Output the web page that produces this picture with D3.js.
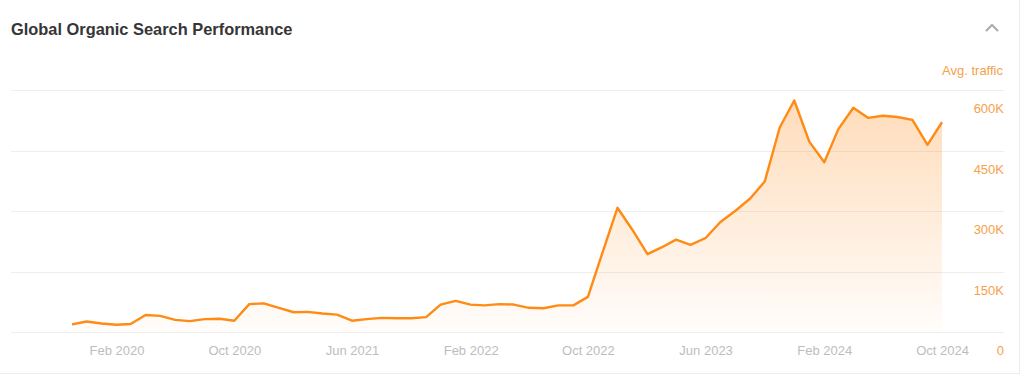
<!DOCTYPE html>
<html>
<head>
<meta charset="utf-8">
<script src="https://cdn.jsdelivr.net/npm/d3@7"></script>
<style>
  html, body { margin: 0; padding: 0; background: #fff; }
  svg { display: block; font-family: "Liberation Sans", Arial, sans-serif; }
</style>
</head>
<body>
<div id="chart"></div>
<script>
// monthly data, Nov 2019 .. Oct 2024
const startMonth = "2019-11";
const traffic = [
  19, 26,
  21, 18, 20, 42, 40, 30, 27, 32, 33, 28, 69, 71,
  60, 49, 50, 46, 43, 28, 32, 35, 34, 34, 37, 68,
  77, 68, 66, 69, 68, 60, 59, 66, 66, 87, 200, 308,
  253, 193, 209, 229, 216, 233, 272, 300, 331, 373, 507, 574,
  472, 421, 503, 556, 531, 536, 533, 526, 464, 520
].map(d => d * 1000);
const xTickLabels = ["Feb 2020", "Oct 2020", "Jun 2021", "Feb 2022", "Oct 2022", "Jun 2023", "Feb 2024", "Oct 2024"];
const yTicks = [0, 150000, 300000, 450000, 600000];

let width = 1024;
let height = 382;

const parseMonth = d3.timeParse("%Y-%m");
const parseLabel = d3.timeParse("%b %Y");
const start = parseMonth(startMonth);
const data = traffic.map((v, i) => ({ date: d3.timeMonth.offset(start, i), value: v }));

let svg = d3.select("#chart")
    .append("svg")
    .attr("width", width)
    .attr("height", height);

// card borders
svg.append("line")
    .attr("x1", 0).attr("x2", 1020)
    .attr("y1", 373.5).attr("y2", 373.5)
    .attr("stroke", "#ececec");
svg.append("line")
    .attr("x1", 1019.5).attr("x2", 1019.5)
    .attr("y1", 0).attr("y2", 374)
    .attr("stroke", "#ececec");

// header
svg.append("text")
    .attr("x", 11)
    .attr("y", 35)
    .attr("font-size", 16.4)
    .attr("font-weight", "bold")
    .attr("fill", "#363636")
    .text("Global Organic Search Performance");

svg.append("path")
    .attr("d", "M986,31 L992,25 L998,31")
    .attr("fill", "none")
    .attr("stroke", "#aaa")
    .attr("stroke-width", 2);

let xScale = d3.scaleTime()
    .domain([data[0].date, data[data.length - 1].date])
    .range([72, 942]);

let yScale = d3.scaleLinear()
    .domain([0, 600000])
    .range([332, 90]);

// grid + y labels
const grid = svg.append("g");
grid.selectAll("line")
    .data(yTicks)
    .enter()
    .append("line")
    .attr("x1", 11)
    .attr("x2", 1004)
    .attr("y1", d => Math.round(yScale(d)) + 0.5)
    .attr("y2", d => Math.round(yScale(d)) + 0.5)
    .attr("stroke", "#eeeeee");

grid.selectAll("text")
    .data(yTicks)
    .enter()
    .append("text")
    .attr("x", 1004)
    .attr("y", d => yScale(d) + 23)
    .attr("text-anchor", "end")
    .attr("font-size", 13)
    .attr("fill", "#f7a04c")
    .text(d => d === 0 ? "0" : d3.format("d")(d / 1000) + "K");

svg.append("text")
    .attr("x", 1003)
    .attr("y", 75)
    .attr("text-anchor", "end")
    .attr("font-size", 13)
    .attr("fill", "#f7a04c")
    .text("Avg. traffic");

// x axis labels
let xAxis = d3.axisBottom(xScale)
    .tickValues(xTickLabels.map(parseLabel))
    .tickFormat(d3.timeFormat("%b %Y"))
    .tickSize(0)
    .tickPadding(0);

let gx = svg.append("g")
    .attr("transform", "translate(0, 345)")
    .call(xAxis);
gx.select(".domain").remove();
gx.selectAll("text")
    .attr("font-family", "Liberation Sans, Arial, sans-serif")
    .attr("font-size", 13)
    .attr("fill", "#bdbdbd")
    .attr("dy", "0.77em");

// gradient fill
const defs = svg.append("defs");
const grad = defs.append("linearGradient")
    .attr("id", "areaFill")
    .attr("x1", 0).attr("x2", 0)
    .attr("y1", 0).attr("y2", 1);
grad.append("stop").attr("offset", "0%").attr("stop-color", "#ff8a1a").attr("stop-opacity", 0.3);
grad.append("stop").attr("offset", "100%").attr("stop-color", "#ff8a1a").attr("stop-opacity", 0.02);

let area = d3.area()
    .x(d => xScale(d.date))
    .y0(yScale(0))
    .y1(d => yScale(d.value));

let line = d3.line()
    .x(d => xScale(d.date))
    .y(d => yScale(d.value));

svg.append("path")
    .datum(data)
    .attr("d", area)
    .attr("fill", "url(#areaFill)");

svg.append("path")
    .datum(data)
    .attr("d", line)
    .attr("fill", "none")
    .attr("stroke", "#ff8a14")
    .attr("stroke-width", 2.4)
    .attr("stroke-linejoin", "round");
</script>
</body>
</html>
